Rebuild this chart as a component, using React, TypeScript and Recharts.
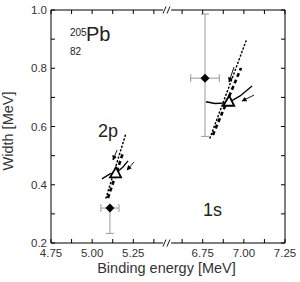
import React from 'react';
import { ComposedChart, Scatter, XAxis, YAxis, ErrorBar } from 'recharts';

// Broken x axis: values above 6 are shifted left by OFFSET in plot units
const OFFSET = 1.0784;
const toU = (x: number) => (x > 6 ? x - OFFSET : x);
const fromU = (u: number) => (u > 5.5 ? u + OFFSET : u);

const xMajorTicks = [4.75, 5.0, 5.25, 6.75, 7.0, 7.25];
const xMinorTicks = [4.875, 5.125, 5.375, 6.625, 6.875, 7.125];
const yMajorTicks = [0.2, 0.4, 0.6, 0.8, 1.0];
const yMinorTicks = [0.3, 0.5, 0.7, 0.9];
const X_BREAK_U = 5.4547;

// Experimental points (filled diamonds)
const expX = [5.108, 6.764];
const expY = [0.32, 0.766];
const expXErr = [0.055, 0.087];
const expYErr = [[0.087, 0.0], [0.2, 0.22]];

// Theory (open triangles)
const thX = [5.139, 6.905];
const thY = [0.439, 0.685];

// 2p curves
const solid2pX = [5.06, 5.108, 5.151, 5.187, 5.218];
const solid2pY = [0.42, 0.437, 0.442, 0.461, 0.482];
const dash2pX = [5.096, 5.187];
const dash2pY = [0.3545, 0.509];
const dot2pX = [5.084, 5.206];
const dot2pY = [0.3545, 0.5777];
const arrowA2pX = [5.2543, 5.2117];
const arrowA2pY = [0.478, 0.4506];
const arrowB2pX = [5.151, 5.1267];
const arrowB2pY = [0.519, 0.485];

// 1s curves
const solid1sX = [6.77, 6.825, 6.904, 6.977, 7.05];
const solid1sY = [0.685, 0.679, 0.681, 0.705, 0.739];
const dash1sX = [6.812, 6.983];
const dash1sY = [0.571, 0.801];
const dot1sX = [6.794, 7.013];
const dot1sY = [0.5605, 0.8936];
const arrowA1sX = [7.062, 6.989];
const arrowA1sY = [0.708, 0.6876];
const arrowB1sX = [6.94, 6.91];
const arrowB1sY = [0.8043, 0.7528];

const pts = (xs: number[], ys: number[]) => xs.map((x, i) => ({ x: toU(x), y: ys[i] }));

const expData = expX.map((x, i) => ({ x: toU(x), y: expY[i], ex: expXErr[i], ey: expYErr[i] }));
const thData = pts(thX, thY);

const FONT = 'Liberation Sans, Arial, Helvetica, sans-serif';
const TICK_LEN = 4;

const xTickValues = [...xMajorTicks, ...xMinorTicks].map(toU).concat([X_BREAK_U]);
const yTickValues = [...yMajorTicks, ...yMinorTicks];

const isMajorX = (u: number) => xMajorTicks.some((t) => Math.abs(toU(t) - u) < 1e-6);
const isMajorY = (v: number) => yMajorTicks.some((t) => Math.abs(t - v) < 1e-6);

const BreakMark = ({ x, y }: { x: number; y: number }) => (
  <g>
    <rect x={x - 4} y={y - 1} width={8} height={2} fill="#fff" />
    <line x1={x - 4} y1={y + 3.5} x2={x - 1} y2={y - 3.5} stroke="#000" strokeWidth={0.9} />
    <line x1={x} y1={y + 3.5} x2={x + 3} y2={y - 3.5} stroke="#000" strokeWidth={0.9} />
  </g>
);

const BottomTick = (props: any) => {
  const { x, y, payload } = props;
  const v = payload.value;
  if (Math.abs(v - X_BREAK_U) < 1e-6) return <BreakMark x={x} y={y} />;
  const major = isMajorX(v);
  return (
    <g>
      <line x1={x} y1={y} x2={x} y2={y - TICK_LEN} stroke="#000" strokeWidth={1} />
      {major && (
        <text x={x} y={y + 14} textAnchor="middle" fontSize={11.5} fill="#333" fontFamily={FONT}>
          {fromU(v).toFixed(2)}
        </text>
      )}
    </g>
  );
};

const TopTick = (props: any) => {
  const { x, y, payload } = props;
  const v = payload.value;
  if (Math.abs(v - X_BREAK_U) < 1e-6) return <BreakMark x={x} y={y} />;
  return <line x1={x} y1={y} x2={x} y2={y + TICK_LEN} stroke="#000" strokeWidth={1} />;
};

const LeftTick = (props: any) => {
  const { x, y, payload } = props;
  const v = payload.value;
  const major = isMajorY(v);
  return (
    <g>
      <line x1={x} y1={y} x2={x + TICK_LEN} y2={y} stroke="#000" strokeWidth={1} />
      {major && (
        <text x={x - 4} y={y + 4} textAnchor="end" fontSize={11.5} fill="#333" fontFamily={FONT}>
          {v.toFixed(1)}
        </text>
      )}
    </g>
  );
};

const RightTick = (props: any) => {
  const { x, y } = props;
  return <line x1={x} y1={y} x2={x - TICK_LEN} y2={y} stroke="#000" strokeWidth={1} />;
};

const Diamond = (props: any) => {
  const { cx, cy } = props;
  const r = 4.5;
  return <polygon points={`${cx},${cy - r} ${cx + r},${cy} ${cx},${cy + r} ${cx - r},${cy}`} fill="#000" />;
};

const Triangle = (props: any) => {
  const { cx, cy } = props;
  return (
    <polygon
      points={`${cx + 1},${cy - 6} ${cx + 6},${cy + 4} ${cx - 5},${cy + 4}`}
      fill="#fff"
      stroke="#000"
      strokeWidth={1.8}
      strokeLinejoin="miter"
    />
  );
};

const NoShape = () => <g />;

const lineScatter = (key: string, xs: number[], ys: number[], line: any) => (
  <Scatter
    key={key}
    data={pts(xs, ys)}
    dataKey="y"
    line={line}
    shape={NoShape}
    fill="#000"
    isAnimationActive={false}
  />
);

const solidLine = { stroke: '#000', strokeWidth: 1.3, fill: 'none' };
const dashLine = { stroke: '#000', strokeWidth: 2.6, strokeDasharray: '4 3', fill: 'none' };
const dotLine = { stroke: '#000', strokeWidth: 1.5, strokeDasharray: '1 2.8', strokeLinecap: 'round', fill: 'none' };
const arrowLine = { stroke: '#000', strokeWidth: 0.9, fill: 'none', markerEnd: 'url(#arrowHead)' };

export default function App() {
  return (
    <div style={{ position: 'absolute', left: 0, top: 0, width: 300, height: 282, background: '#fff' }}>
      <svg width={0} height={0} style={{ position: 'absolute' }}>
        <defs>
          <marker id="arrowHead" viewBox="0 0 10 10" refX="9" refY="5" markerWidth="5" markerHeight="5" markerUnits="userSpaceOnUse" orient="auto">
            <path d="M0,0 L10,5 L0,10 z" fill="#000" />
          </marker>
        </defs>
      </svg>
      <ComposedChart width={300} height={282} margin={{ top: 9, right: 14, left: 50, bottom: 38 }}>
        <XAxis
          dataKey="x"
          type="number"
          domain={[4.75, toU(7.25)]}
          allowDataOverflow
          ticks={xTickValues}
          interval={0}
          tick={<BottomTick />}
          tickSize={0}
          tickMargin={0}
          tickLine={false}
          axisLine={{ stroke: '#000' }}
          height={1}
        />
        <XAxis
          xAxisId="top"
          orientation="top"
          dataKey="x"
          type="number"
          domain={[4.75, toU(7.25)]}
          allowDataOverflow
          ticks={xTickValues}
          interval={0}
          tick={<TopTick />}
          tickSize={0}
          tickMargin={0}
          tickLine={false}
          axisLine={{ stroke: '#000' }}
          height={1}
        />
        <YAxis
          dataKey="y"
          type="number"
          domain={[0.2, 1.0]}
          allowDataOverflow
          ticks={yTickValues}
          interval={0}
          tick={<LeftTick />}
          tickSize={0}
          tickMargin={0}
          tickLine={false}
          axisLine={{ stroke: '#000' }}
          width={1}
        />
        <YAxis
          yAxisId="right"
          orientation="right"
          dataKey="y"
          type="number"
          domain={[0.2, 1.0]}
          allowDataOverflow
          ticks={yTickValues}
          interval={0}
          tick={<RightTick />}
          tickSize={0}
          tickMargin={0}
          tickLine={false}
          axisLine={{ stroke: '#000' }}
          width={1}
        />
        <Scatter data={expData} dataKey="y" shape={Diamond} fill="#000" isAnimationActive={false}>
          <ErrorBar dataKey="ex" direction="x" width={4} stroke="#999" strokeWidth={1} />
          <ErrorBar dataKey="ey" direction="y" width={4} stroke="#999" strokeWidth={1} />
        </Scatter>
        {lineScatter('d2', dot2pX, dot2pY, dotLine)}
        {lineScatter('ds2', dash2pX, dash2pY, dashLine)}
        {lineScatter('s2', solid2pX, solid2pY, solidLine)}
        {lineScatter('a2a', arrowA2pX, arrowA2pY, arrowLine)}
        {lineScatter('a2b', arrowB2pX, arrowB2pY, arrowLine)}
        {lineScatter('d1', dot1sX, dot1sY, dotLine)}
        {lineScatter('ds1', dash1sX, dash1sY, dashLine)}
        {lineScatter('s1', solid1sX, solid1sY, solidLine)}
        {lineScatter('a1a', arrowA1sX, arrowA1sY, arrowLine)}
        {lineScatter('a1b', arrowB1sX, arrowB1sY, arrowLine)}
        <Scatter data={thData} dataKey="y" shape={Triangle} fill="#fff" isAnimationActive={false} />
      </ComposedChart>
      <svg width={300} height={282} style={{ position: 'absolute', left: 0, top: 0, pointerEvents: 'none' }} fontFamily={FONT}>
        <text x={70} y={36} fontSize={10} fill="#222">205</text>
        <text x={86} y={41} fontSize={20} fill="#222">Pb</text>
        <text x={70} y={55} fontSize={10} fill="#222">82</text>
        <text x={98} y={137} fontSize={18} fill="#222">2p</text>
        <text x={203} y={216} fontSize={18} fill="#222">1s</text>
        <text x={166.5} y={273} fontSize={14.5} textAnchor="middle" fill="#333">Binding energy [MeV]</text>
        <text x={12.5} y={131} fontSize={14.5} textAnchor="middle" fill="#333" transform="rotate(-90 12.5 131)">Width [MeV]</text>
      </svg>
    </div>
  );
}
